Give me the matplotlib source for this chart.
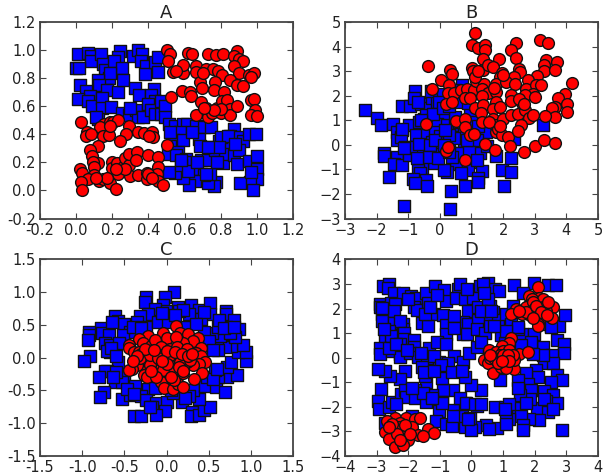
import numpy as np
import matplotlib
matplotlib.use("Agg")
import matplotlib.pyplot as plt
from matplotlib.ticker import FormatStrFormatter

# points, (x, y)
a_blue = [(.01,.97),(.065,.98),(.08,.96),(.08,.92),(.14,.97),(.15,.90),(.16,.86),(0,.87),(.015,.87),(.245,.99),
(.23,.95),(.21,.92),(.255,.875),(.18,.80),(.185,.84),(.12,.785),(.125,.75),(.17,.715),(.02,.75),(.055,.71),
(.075,.675),(.01,.65),(.065,.64),(.085,.60),(.145,.66),(.145,.59),(.195,.595),(.23,.70),(.26,.785),(.12,.51),
(.255,.555),(.295,.535),(.33,.57),(.34,.52),(.37,.52),(.325,.73),(.35,.68),(.315,.96),(.34,1.0),(.365,.97),
(.36,.92),(.385,.885),(.38,.83),(.43,.72),(.415,.68),(.435,.64),(.40,.615),(.415,.57),(.435,.545),(.47,.64),
(.47,.545),(.49,.60),(.49,.52),(.435,.915),(.455,.95),(.455,.845),(.515,.475),(.545,.46),(.59,.475),(.615,.47),
(.665,.46),(.705,.45),(.745,.45),(.575,.415),(.535,.36),(.59,.36),(.68,.37),(.685,.32),(.52,.32),(.51,.257),
(.565,.275),(.555,.255),(.61,.225),(.64,.19),(.665,.155),(.69,.215),(.73,.215),(.75,.31),(.77,.285),(.79,.35),
(.825,.32),(.815,.195),(.825,.26),(.875,.25),(.89,.19),(.875,.435),(.85,.385),(.90,.38),(.925,.35),(.90,.285),
(.955,.40),(.995,.40),(.955,.21),(1.0,.245),(1.0,.15),(1.0,.08),(.96,.06),(.98,.005),(.905,.05),(.775,.06),
(.76,.03),(.73,.05),(.74,.115),(.705,.11),(.66,.07),(.625,.04),(.59,.09),(.545,.125),(.515,.13),
(.11,.52),(.3,.59),(.52,.42),(.64,.42),(.8,.38),(.84,.39),(.78,.2),(.6,.2),(.58,.18),(.62,.14),(.67,.2),(.72,.12),
(.58,.22),(.97,.13),(.88,.33),(.79,.31),(.73,.31)]
a_red = [(.505,1.0),(.52,.97),(.51,.92),(.535,.845),(.59,.84),(.59,.895),(.62,.98),(.64,.97),(.73,.975),(.775,.965),
(.81,.975),(.89,.99),(.875,.96),(.90,.935),(.925,.92),(.875,.885),(.90,.84),(.665,.885),(.665,.845),(.72,.865),
(.755,.865),(.785,.85),(.805,.825),(.685,.775),(.695,.73),(.77,.775),(.76,.715),(.85,.785),(.89,.75),(.925,.745),
(.955,.825),(.985,.84),(.97,.81),(.82,.70),(.585,.71),(.63,.70),(.635,.675),(.525,.665),(.69,.63),(.72,.585),
(.665,.54),(.73,.525),(.75,.55),(.78,.59),(.805,.635),(.835,.645),(.85,.58),(.80,.555),(.85,.54),(.965,.645),
(.985,.65),(.99,.57),(.97,.535),(1.0,.53),(.025,.485),(.155,.475),(.13,.455),(.185,.485),(.205,.49),(.23,.50),
(.295,.46),(.34,.42),(.375,.41),(.42,.415),(.425,.38),(.405,.385),(.06,.415),(.055,.385),(.08,.40),(.15,.39),
(.18,.395),(.275,.40),(.24,.35),(.50,.325),(.12,.315),(.075,.29),(.09,.245),(.12,.195),(.095,.20),(.10,.165),
(.02,.15),(.035,.125),(.10,.11),(.065,.085),(.125,.065),(.15,.085),(.025,.06),(.03,0),(.19,.055),(.22,.01),
(.23,.12),(.20,.20),(.20,.16),(.225,.195),(.26,.165),(.27,.23),(.29,.185),(.295,.26),(.335,.275),(.33,.215),
(.30,.10),(.34,.11),(.39,.125),(.39,.08),(.40,.255),(.455,.24),(.455,.165),(.445,.12),(.455,.07),(.48,.04),
(.55,.85),(.7,.84),(.8,.58),(.76,.57),(.71,.59),(.89,.6),(.17,.09),(.11,.09),(.4,.12),(.27,.15),(.22,.15),(.42,.09),(.19,.46)]

b_blue = [(-2.38,1.43),(-1.99,1.11),(-1.85,.8),(-1.47,.86),(-1.36,.53),(-1.2,.62),(-1.35,.19),(-1.23,.32),(-.99,.8),
(-1.2,1.57),(-.95,1.57),(-.78,2.19),(-.81,1.92),(-.6,1.68),(-.36,1.51),(-.26,1.92),(-.08,1.74),(.07,2.08),(-.29,2.2),
(-.66,.93),(-.5,1.07),(-.29,1.14),(.12,1.2),(-.08,.86),(.23,.8),(.49,1.14),(.59,.59),(.65,.32),(-.75,.39),(-.4,.39),
(-.14,.53),(.02,.35),(.29,.38),(.75,-.01),(1.06,.26),(1.46,.53),(.94,1.34),(1.01,.93),(.7,2.42),(.49,2.22),
(-1.77,-.35),(-1.77,-.45),(-1.36,-.51),(-1.44,-.76),(-1.2,-.8),(-.97,-.42),(-1.1,-.08),(-.81,-.08),(-.52,-.11),
(-.19,-.22),(-.19,-.73),(.02,-.22),(.28,.05),(.59,-.35),(.94,-.28),(1.27,-.35),(1.06,-.69),(.52,-.78),(.88,-1.03),
(.67,-1.16),(.23,-1.09),(.12,-1.03),(1.32,-1.07),(1.22,-1.36),(1.22,-1.5),(-.55,-.96),(-.68,-1.03),(-.63,-1.16),
(-.86,-1.39),(-.45,-1.43),(-.78,-1.57),(-.42,-1.66),(-1.61,-1.3),(-1.13,-2.47),(.33,-2.61),(.35,-1.89),(.8,-1.66),
(2.02,-1.66),(1.95,-1.03),(2.26,-1.12),(2.24,-.55),(1.76,-.46),(2.36,.22),(3.27,.8),(1.48,-.05),(.75,.59),(1.17,.19),
(.12,.12),(-.24,.12),(-.66,.05),(-.31,-.01),(.44,.26),
(-.68,1.74),(-.03,1.74),(-.45,1.2),(-.21,1.24),(.28,.39),(-1.21,.66),(-1.13,-.11),(.56,-.32),(.91,-.28),(1.17,-.62),
(-.6,1.0),(-.14,.19),(.12,-.01),(.39,-.49),(-.34,-.49),(-.71,-.55),(.1,1.5),(.3,1.6),(.55,1.75),(.9,1.7),(.15,.6),
(.6,.95),(.85,.2),(1.2,.75),(-.05,-.55),(.3,-.3)]
b_red = [(1.11,4.55),(1.01,4.08),(1.2,3.95),(1.43,4.07),(1.43,3.86),(2.42,4.14),(2.26,3.86),(2.42,3.54),(3.18,4.27),
(3.42,4.15),(1.35,3.5),(1.88,3.5),(3.35,3.47),(3.7,3.39),(3.3,3.23),(3.28,3.0),(3.64,3.05),(-.38,3.2),(.33,3.03),
(.39,2.89),(1.01,3.14),(1.06,2.99),(1.38,3.03),(1.53,3.23),(1.69,3.16),(1.98,2.92),(1.9,2.76),(2.49,3.09),(2.54,2.96),
(2.36,2.76),(3.06,2.8),(.04,2.62),(.28,2.42),(-.26,2.28),(.26,2.11),(.44,2.11),(.67,2.24),(.85,2.28),(1.08,2.24),
(1.15,2.59),(1.4,2.46),(1.32,2.26),(1.53,2.11),(1.76,2.49),(1.77,2.15),(2.1,2.55),(2.39,2.49),(2.8,2.62),(2.73,2.28),
(3.04,2.42),(3.2,2.42),(2.96,2.08),(2.7,2.01),(3.02,1.95),(4.19,2.51),(3.96,2.08),(3.74,1.92),(4.01,1.68),(4.01,1.34),
(3.65,1.54),(3.54,1.5),(3.65,1.14),(3.32,1.18),(.18,1.68),(.39,1.73),(.8,1.92),(.96,1.92),(1.34,1.97),(1.79,1.74),
(2.26,2.01),(2.24,1.78),(1.11,1.51),(1.35,1.64),(1.29,1.3),(1.69,1.47),(1.9,1.54),(-.43,.86),(.52,.97),(.8,1.07),
(.78,.73),(1.32,.93),(1.69,1.07),(1.74,.8),(1.79,.53),(2.0,1.04),(1.84,.66),(1.95,.39),(2.16,.32),(2.26,1.2),
(2.47,1.27),(2.68,1.43),(2.81,1.11),(2.96,1.2),(2.57,.82),(2.47,.57),(.96,.39),(1.09,.46),(1.44,.03),(1.74,-.19),
(2.21,-.05),(2.66,-.31),(3.01,-.04),(3.28,.19),(3.64,.08),(.18,-.24),(.25,-.08),(.8,-.62),
(1.7,2.3),(2.6,1.7),(1.1,2.75),(1.2,3.0),(2.0,2.85),(2.5,1.85),(1.55,.95),(1.9,.75),(2.65,1.65)]

c_blue = [(.09,1.0),(-.02,.92),(-.24,.93),(-.26,.85),(-.04,.81),(-.14,.75),(.01,.72),(.14,.77),(.29,.8),(.39,.73),
(.52,.84),(.7,.71),(.7,.66),(.52,.66),(.8,.58),(.86,.44),(.31,.59),(.41,.59),(.27,.66),(-.22,.66),(-.32,.64),(-.61,.64),
(-.58,.56),(-.5,.51),(-.35,.54),(-.24,.47),(-.1,.55),(.02,.54),(-.43,.4),(-.78,.45),(-.76,.37),(-.68,.35),(-.92,.39),
(-.92,.34),(-.93,.27),(-.52,.34),(-.73,.22),(-.67,.19),(-.56,.23),(-.67,.08),(-.91,.02),(-.98,-.05),(-.58,-.07),
(-.7,-.2),(-.73,-.2),(-.8,-.3),(-.61,-.37),(-.51,-.29),(-.53,-.37),(-.37,-.43),(-.22,-.47),(-.74,-.53),(-.79,-.6),
(-.53,-.63),(-.43,-.57),(-.3,-.59),(-.24,-.64),(-.13,-.69),(-.17,-.75),(.01,-.67),(.18,-.67),(-.02,-.82),(-.12,-.88),
(-.38,-.89),(-.3,-.89),(.3,-.83),(.29,-.89),(.38,-.88),(.45,-.8),(.51,-.75),(.39,-.63),(.31,-.49),(.27,-.58),(.46,-.43),
(.59,-.44),(.69,-.53),(.72,-.29),(.83,-.26),(.61,-.29),(.48,-.29),(.58,-.19),(.72,-.14),(.76,-.06),(.94,-.05),(.85,.08),
(.94,.09),(.91,.19),(.77,.18),(.69,.17),(.6,.2),(.61,.12),(.81,.32),(.63,.33),(.54,.38),(.44,.4),(.61,.47),(.71,.47),
(.75,.37),(.24,.47),(.15,.72),(-.14,-.46),(.08,-.54),
(.2,.73),(.44,.7),(.62,.58),(.68,.45),(.8,.47),(-.65,.55),(-.7,.1),(-.66,.15),(-.6,.02),(-.6,-.22),(-.63,-.3),(-.47,-.47),
(-.38,-.55),(-.2,-.75),(.05,-.5),(.22,-.62),(.55,-.33),(.6,-.17),(.5,.25),(.55,.12),(-.4,.47),(-.3,.45),(-.05,.68),(.1,.65),(.35,.52)]
c_red = [(.11,.49),(-.04,.37),(0,.3),(.16,.38),(.26,.36),(.37,.3),(.31,.26),(.2,.23),(.11,.32),(-.22,.33),(-.33,.28),
(-.44,.19),(-.45,.15),(-.28,.22),(-.18,.18),(-.14,.27),(-.39,.09),(-.33,.08),(-.3,.05),(-.24,.08),(-.09,.1),(-.06,.17),
(.04,.14),(.12,.17),(.24,.14),(.41,.15),(.35,.07),(.41,.02),(.46,-.06),(.39,-.1),(.31,-.11),(.24,-.06),(.2,-.12),
(.14,-.16),(.08,-.14),(-.02,0),(.06,-.04),(.12,.02),(-.1,-.1),(-.16,-.06),(-.24,-.04),(-.28,-.09),(-.35,-.11),
(-.41,-.17),(-.44,-.19),(-.27,-.26),(-.23,-.3),(-.14,-.19),(-.06,-.24),(0,-.29),(.06,-.21),(.19,-.24),(.42,-.24),
(.33,-.32),(-.06,-.37),(-.03,-.46),(.08,-.48),(.14,-.4),(.19,-.44),(.09,-.34),(-.2,-.11),(-.31,-.01),(-.04,-.19),
(.16,-.06),(-.08,.04),(.04,.04),(-.2,.04),(-.26,.14),(.28,-.04),
(-.1,0),(-.15,.12),(0,.1),(.1,.08),(.18,.05),(.25,.02),(0,-.1),(-.05,-.05),(.15,-.14),(.05,-.3),(-.12,-.3),(-.18,-.2),
(.3,.05),(.2,-.2),(-.35,.02),(-.4,-.05)]

d_blue = [(-2.8,2.9),(-2.62,3.0),(-2.65,2.85),(-2.46,2.65),(-2.18,2.65),(-1.9,2.52),(-1.75,2.45),(-1.43,2.63),(-1.15,2.9),
(-.86,2.76),(-.42,2.79),(-.37,2.99),(.1,2.72),(.26,2.92),(.52,3.03),(.75,2.79),(.86,2.72),(1.33,2.95),(1.99,3.03),
(2.43,2.96),(2.67,2.96),(1.62,2.65),(-2.9,2.18),(-2.9,2.05),(-2.83,1.78),(-2.75,1.69),(-2.83,1.51),(-2.54,2.23),
(-2.41,2.18),(-2.44,1.92),(-2.46,1.41),(-2.15,1.38),(-2.15,1.18),(-2.25,1.51),(-1.83,2.05),(-1.71,1.94),(-1.36,2.23),
(-1.31,1.98),(-1.36,1.78),(-1.18,1.78),(-.89,1.74),(-.81,2.32),(-.49,2.45),(-.21,2.39),(.05,2.45),(-.1,1.92),(.21,2.05),
(.58,2.12),(.68,1.85),(.52,1.55),(.84,1.55),(1.1,1.78),(1.26,1.38),(-.26,1.47),(-.1,1.38),(.21,1.55),(-1.57,1.42),
(-1.36,1.31),(-.82,1.34),(-.81,.98),(-.28,.98),(-.14,.98),(.16,1.18),(.42,1.01),(-2.62,1.07),(-2.72,.8),(-2.54,.88),
(-2.13,1.02),(-2.13,.78),(-1.83,.71),(-2.25,.54),(-1.83,.44),(-1.33,.38),(-1.08,.62),(-.81,.54),(-2.88,.38),(-2.88,.17),
(-2.51,.27),(-2.27,.17),(-2.27,.04),(-1.94,.21),(-1.68,.04),(-1.41,-.03),(-1.03,-.16),(-.54,.07),(-.73,-.23),(-.26,-.19),
(-.07,.21),(.18,.44),(.94,.91),(1.6,.95),(1.99,.98),(1.47,1.18),(2.25,1.38),(2.51,1.31),(2.77,1.31),(2.95,1.74),(2.7,.74),
(2.91,.54),(2.93,.2),(2.25,.44),(1.88,.51),(2.54,.13),(2.3,-.23),(2.57,-.23),(2.04,-.5),(2.09,-.79),(1.73,-.63),(1.8,-1.06),
(1.88,-1.33),(1.47,-.9),(.89,-.9),(2.7,-.72),(2.86,-.9),(2.51,-.97),(2.3,-1.37),(2.57,-1.53),(2.69,-1.86),(2.36,-1.77),
(2.07,-2.04),(2.41,-2.21),(2.13,-2.53),(1.83,-2.51),(2.85,-2.95),(1.86,-1.7),(1.52,-1.5),(1.39,-2.04),(1.57,-2.37),
(1.64,-2.75),(1.64,-2.95),(1.2,-2.51),(1.08,-2.37),(.73,-2.0),(1.05,-2.0),(.82,-2.87),(.47,-2.75),(.55,-2.91),(.1,-2.8),
(-.21,-2.84),(0,-2.95),(.18,-1.97),(-.21,-1.86),(.31,-1.33),(0,-1.13),(-.19,-.8),(-.58,-1.3),(-.89,-1.3),(-.94,-.83),
(-1.45,-.99),(-1.47,-.76),(-1.55,-.36),(-2.09,-.56),(-2.25,-.87),(-2.57,-.76),(-2.72,-.54),(-2.96,-.46),(-2.85,-1.27),
(-2.95,-1.77),(-2.91,-2.1),(-2.62,-2.0),(-2.51,-1.8),(-2.23,-1.46),(-2.09,-1.3),(-2.07,-1.6),(-1.78,-1.33),(-1.8,-1.64),
(-1.43,-1.8),(-1.26,-1.5),(-.92,-1.81),(-1.02,-2.17),(-1.13,-2.57),(-.82,-2.71),(-.58,-2.14),(-.29,-2.37),(-.05,-2.44),
(-.6,-2.77),(-.37,-1.64),(-1.88,-2.37),(-2.72,-2.64),
(-2.83,2.02),(-1.47,1.78),(-1.31,2.08),(-.94,-1.84),(-.16,-1.84),(.1,-1.9),(-.58,-2.37),(-.1,-2.48),(-1.52,-1.43),(-1.26,-1.63),
(-1.88,-1.23),(.37,2.99),(.52,2.39),(.31,1.92),(.63,1.92),(.58,1.31),(2.51,1.25),(1.88,.64),(1.57,.51),(2.25,.11),(1.05,.58),
(1.47,1.25),(1.94,.17),(.31,.64),(1.47,-1.23),(2.3,-1.7),(1.2,-1.9),(.31,-1.9),(1.73,-1.84),(1.05,-2.1),(1.1,-2.71),(2.59,-2.1),
(-2.6,.4),(-2.4,.55),(-2.05,.3),(-1.6,.2),(-1.2,.05),(-.95,-.3),(-.6,-.6),(-.3,-.55),(-1.5,-.6),(-1.2,-.55),(-2.4,-1.9),
(-2.75,1.15),(-2.0,2.4),(-1.1,2.55),(-.15,2.8),(.4,2.65),(1.3,2.1),(1.1,1.1),(.7,1.3),(-.55,1.7),(-.55,1.2)]
d_red = [(2.09,2.86),(2.13,2.43),(1.83,2.52),(1.92,2.41),(2.25,2.39),(1.81,2.14),(2.57,2.08),(1.41,1.98),(1.26,1.78),
(1.6,1.78),(2.04,1.88),(1.73,2.05),(2.25,2.05),(1.86,1.72),(2.2,1.72),(2.54,1.62),(2.13,1.55),(2.09,1.38),(2.09,1.29),
(2.36,1.92),(1.94,2.25),(1.99,1.98),(1.73,1.85),(2.41,2.25),(1.26,.82),(1.2,.58),(.97,.47),(.68,.21),(.55,.31),(.79,.24),
(.99,.27),(1.18,.31),(1.5,.17),(1.8,.24),(.39,-.09),(.52,-.23),(.68,-.63),(.79,-.09),(.94,-.36),(1.1,-.03),(1.26,-.27),
(1.36,-.46),(1.36,-.09),(.99,-.03),(.58,-.03),(1.1,-.43),(.89,.11),(1.31,.11),(-2.41,-2.44),(-2.06,-2.47),(-1.78,-2.51),
(-1.64,-2.44),(-2.67,-2.57),(-2.25,-2.64),(-2.72,-3.04),(-2.46,-2.95),(-2.04,-2.95),(-1.88,-2.84),(-1.38,-2.91),(-1.2,-3.08),
(-1.7,-3.14),(-1.54,-3.18),(-2.62,-3.31),(-2.02,-3.35),(-2.41,-3.65),(-2.18,-3.55),(-2.3,-2.84),(-2.2,-3.18),
(2.05,2.1),(2.2,1.85),(1.95,1.6),(2.4,1.75),(1.5,1.9),(.7,0),(.85,-.2),(1.0,.1),(1.15,.1),(1.2,-.15),(.6,.1),(.95,-.15),
(-2.5,-2.7),(-2.35,-3.1),(-2.1,-2.75),(-1.95,-3.1),(-2.6,-2.8),(-2.25,-3.35)]

titles = ["A", "B", "C", "D"]
blues = [a_blue, b_blue, c_blue, d_blue]
reds = [a_red, b_red, c_red, d_red]
xlims = [(-.2, 1.2), (-3, 5), (-1.5, 1.5), (-4, 4)]
ylims = [(-.2, 1.2), (-3, 5), (-1.5, 1.5), (-4, 4)]
xticks = [np.arange(-.2, 1.21, .2), np.arange(-3, 6), np.arange(-1.5, 1.6, .5), np.arange(-4, 5)]
yticks = [np.arange(-.2, 1.21, .2), np.arange(-3, 6), np.arange(-1.5, 1.6, .5), np.arange(-4, 5)]

fig, axes = plt.subplots(2, 2, figsize=(6.05, 4.74), dpi=100)
fig.subplots_adjust(left=40/605, right=598/605, top=1-22/474, bottom=18/474, wspace=.205, hspace=.208)

for i, ax in enumerate(axes.flat):
    blue = np.array(blues[i])
    red = np.array(reds[i])
    ax.scatter(blue[:, 0], blue[:, 1], marker="s", s=72, c="#0000ff", edgecolors="#111111", linewidths=1)
    ax.scatter(red[:, 0], red[:, 1], marker="o", s=72, c="#ff0000", edgecolors="#111111", linewidths=1)
    ax.set_xlim(xlims[i])
    ax.set_ylim(ylims[i])
    ax.set_xticks(xticks[i])
    ax.set_yticks(yticks[i])
    if i in (0, 2):
        ax.xaxis.set_major_formatter(FormatStrFormatter("%.1f"))
        ax.yaxis.set_major_formatter(FormatStrFormatter("%.1f"))
    ax.tick_params(direction="in", top=True, right=True, labelsize=10.5, length=4, width=.8, pad=3, color="#444444", labelcolor="#222222")
    ax.set_title(titles[i], fontsize=13, pad=3, color="#222222")
    for s in ax.spines.values():
        s.set_linewidth(1.3)
        s.set_color("#444444")

fig.savefig("out.png", dpi=100)
